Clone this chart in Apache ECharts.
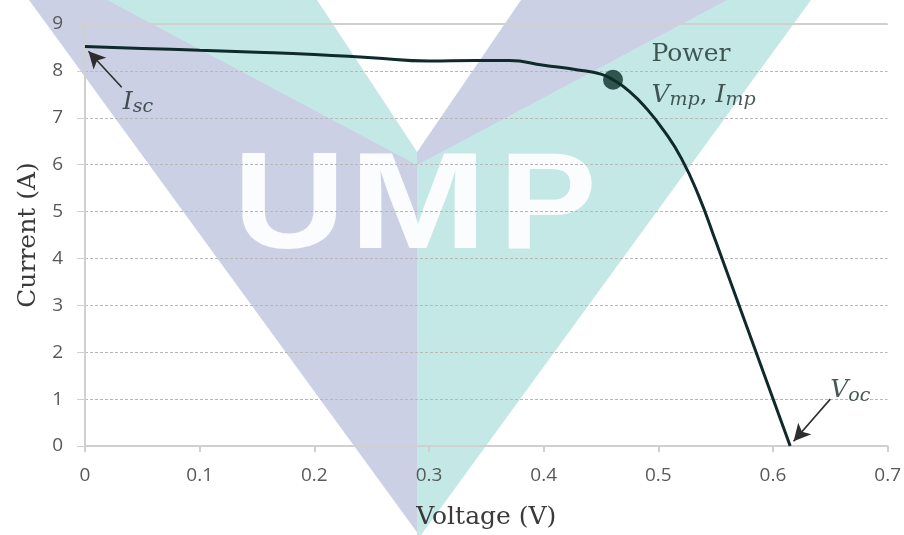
<!DOCTYPE html>
<html><head><meta charset="utf-8">
<script src="https://cdn.jsdelivr.net/npm/echarts@6/dist/echarts.min.js"></script>
<style>html,body{margin:0;padding:0;background:#fff}#c{width:904px;height:535px}</style>
</head><body><div id="c"></div>
<script>
// ---- data ----
const voltage = [0, 0.05, 0.10, 0.15, 0.20, 0.25, 0.30, 0.34, 0.37, 0.40, 0.43, 0.45, 0.4605, 0.475, 0.49, 0.505, 0.52, 0.535, 0.55, 0.615];
const current = [8.52, 8.48, 8.44, 8.40, 8.35, 8.28, 8.21, 8.22, 8.22, 8.12, 8.02, 7.93, 7.81, 7.56, 7.19, 6.72, 6.14, 5.35, 4.37, 0];
const mppPoint = [0.4605, 7.81];
const xRange = [0, 0.7, 0.1];
const yRange = [0, 9, 1];
const xName = 'Voltage (V)';
const yName = 'Current (A)';
const iscArrow = [[0.032, 7.65], [0.003, 8.42]];
const vocArrow = [[0.650, 1.00], [0.618, 0.10]];
const powerLabelAt = [0.494, 8.35];
const vmpLabelAt = [0.494, 7.48];
const iscLabelAt = [0.033, 7.33];
const vocLabelAt = [0.650, 1.18];

const serif = '"DejaVu Serif", "Liberation Serif", serif';
const sans = '"Open Sans", "Noto Sans", sans-serif';

const chart = echarts.init(document.getElementById('c'), null, {renderer: 'canvas'});

const purple = '#cbd0e5';
const teal = '#c4e8e6';
const wm = (pts, fill, z) => ({type: 'polygon', z: z, silent: true, shape: {points: pts}, style: {fill: fill}});
const letter = (t, x, sx) => ({type: 'text', z: -97, silent: true, x: x, y: 210, scaleX: sx,
  style: {text: t, font: 'bold 138px "Liberation Sans"', fill: '#fbfcfe', verticalAlign: 'middle'}});

const option = {
  animation: false,
  backgroundColor: '#ffffff',
  graphic: {
    elements: [
      wm([[29,0],[417,0],[417,535],[419,535]], purple, -100),
      wm([[417,0],[811,0],[421,535],[417,535]], teal, -100),
      wm([[107,0],[317,0],[417,152],[417,165]], teal, -99),
      wm([[521,0],[727,0],[417,165],[417,152]], purple, -99),
      wm([[317,0],[521,0],[417,152]], '#ffffff', -98),
      letter('U', 233, 1.13),
      letter('M', 349, 1.2),
      letter('P', 499, 1.06)
    ]
  },
  grid: {left: 85, right: 16, top: 24, bottom: 86, containLabel: false},
  xAxis: {
    type: 'value', min: xRange[0], max: xRange[1], interval: xRange[2],
    name: xName, nameLocation: 'middle', nameGap: 59,
    nameTextStyle: {fontFamily: serif, fontSize: 25, color: '#3a3a3a'},
    axisLine: {show: true, lineStyle: {color: '#d0d0d0', width: 2}},
    axisTick: {show: true, length: 6, lineStyle: {color: '#d0d0d0', width: 2}},
    axisLabel: {margin: 20, fontFamily: sans, fontSize: 19, color: '#595959',
      formatter: v => (Math.round(v * 10) / 10).toString()},
    splitLine: {show: false}
  },
  yAxis: {
    type: 'value', min: yRange[0], max: yRange[1], interval: yRange[2],
    name: yName, nameLocation: 'middle', nameGap: 42, nameRotate: 90,
    nameTextStyle: {fontFamily: serif, fontSize: 25, color: '#3a3a3a'},
    axisLine: {show: true, lineStyle: {color: '#d0d0d0', width: 2}},
    axisTick: {show: true, length: 8, lineStyle: {color: '#d0d0d0', width: 1}},
    axisLabel: {margin: 22, fontFamily: sans, fontSize: 19, color: '#595959'},
    splitLine: {show: true, lineStyle: {color: '#b8b8b8', width: 1, type: [3, 2]}}
  },
  series: [
    {
      type: 'line', name: 'I-V', data: voltage.map((v, i) => [v, current[i]]),
      smooth: 0.5, showSymbol: false, symbol: 'none',
      lineStyle: {color: '#0f2a2a', width: 3}, z: 5,
      markLine: {
        silent: true, symbol: 'none', label: {show: false},
        lineStyle: {color: '#d0d0d0', type: 'solid', width: 2},
        data: [{yAxis: yRange[1]}]
      }
    },
    {
      type: 'scatter', name: 'MPP', data: [mppPoint], symbolSize: 20,
      itemStyle: {color: '#0b2e2a'}, z: 6
    },
    {
      type: 'line', name: 'arrows', data: [], z: 7,
      markLine: {
        silent: true, symbol: ['none', 'arrow'], symbolSize: [13, 17],
        label: {show: false},
        lineStyle: {color: '#2e2e2e', type: 'solid', width: 1.6},
        data: [
          [{coord: iscArrow[0]}, {coord: iscArrow[1]}],
          [{coord: vocArrow[0]}, {coord: vocArrow[1]}]
        ]
      }
    },
    {
      type: 'scatter', name: 'labels', symbolSize: 0, z: 8, silent: true,
      data: [
        {value: powerLabelAt, label: {formatter: 'Power'}},
        {value: vmpLabelAt, label: {formatter: '{v|V}{s|mp}{n|, }{v|I}{s|mp}'}},
        {value: iscLabelAt, label: {formatter: '{v|I}{s|sc}'}},
        {value: vocLabelAt, label: {formatter: '{v|V}{s|oc}'}}
      ],
      label: {
        show: true, position: 'right', distance: 0,
        fontFamily: serif, fontSize: 25, color: '#1c2e2c',
        rich: {
          v: {fontFamily: serif, fontStyle: 'italic', fontSize: 25, color: '#1c2e2c'},
          s: {fontFamily: serif, fontStyle: 'italic', fontSize: 19, color: '#1c2e2c', padding: [10, 0, 0, 0]},
          n: {fontFamily: serif, fontSize: 25, color: '#1c2e2c'}
        }
      }
    }
  ]
};
chart.setOption(option);
</script>
</body></html>
